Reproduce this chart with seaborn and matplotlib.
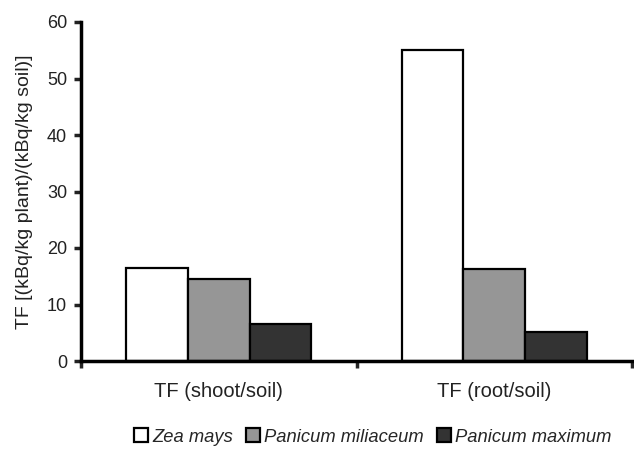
import pandas as pd
import seaborn as sns
import matplotlib.pyplot as plt

kategorie = ["TF (shoot/soil)", "TF (root/soil)"]
gatunki = ["Zea mays", "Panicum miliaceum", "Panicum maximum"]
zea_mays = [16.5, 55.0]
panicum_miliaceum = [14.6, 16.3]
panicum_maximum = [6.5, 5.1]
kolory = ["#ffffff", "#969696", "#333333"]


def tabela():
    wiersze = []
    for gatunek, wartosci in zip(gatunki, [zea_mays, panicum_miliaceum, panicum_maximum]):
        for kat, w in zip(kategorie, wartosci):
            wiersze.append({"kategoria": kat, "gatunek": gatunek, "TF": w})
    return pd.DataFrame(wiersze)


def wykres(df):
    sns.set_style("white")
    plt.rcParams["font.family"] = ["Liberation Sans", "DejaVu Sans"]
    fig = plt.figure(figsize=(6.34, 4.58), dpi=100)
    ax = fig.add_axes([81 / 634, (458 - 361) / 458, (632 - 81) / 634, (361 - 22) / 458])

    sns.barplot(data=df, x="kategoria", y="TF", hue="gatunek", order=kategorie,
                hue_order=gatunki, palette=kolory, width=0.67, edgecolor="black",
                linewidth=1.6, saturation=1, ax=ax)

    ax.set_xlim(-0.5, 1.5)
    ax.set_ylim(0, 60)
    ax.set_yticks(range(0, 61, 10))
    ax.set_xticks([-0.5, 0.5, 1.5])
    ax.set_xticklabels(["", "", ""])
    ax.set_xticks([0, 1], minor=True)
    ax.set_xticklabels(kategorie, minor=True)
    ax.tick_params(axis="x", which="minor", length=0, pad=15, labelsize=14.5, colors="#222222")
    ax.tick_params(axis="x", which="major", direction="out", length=5, width=2.5, bottom=True)
    ax.tick_params(axis="y", direction="out", length=5, width=2.5, left=True,
                   labelsize=13, pad=5, colors="#222222")
    for s in ["top", "right"]:
        ax.spines[s].set_visible(False)
    for s in ["left", "bottom"]:
        ax.spines[s].set_linewidth(2.5)
        ax.spines[s].set_color("black")

    ax.set_xlabel("")
    ax.set_ylabel("TF [(kBq/kg plant)/(kBq/kg soil)]", fontsize=14, color="#222222", labelpad=10)

    uchwyty, etykiety = ax.get_legend_handles_labels()
    ax.get_legend().remove()
    fig.legend(uchwyty, etykiety, loc="center", bbox_to_anchor=(0.588, 1 - 437 / 458), ncol=3,
               frameon=False, handlelength=0.75, handleheight=0.75, handletextpad=0.25,
               columnspacing=0.7, prop={"style": "italic", "size": 13.2})

    fig.savefig("out.png", dpi=100)


if __name__ == "__main__":
    dane = tabela()
    wykres(dane)
